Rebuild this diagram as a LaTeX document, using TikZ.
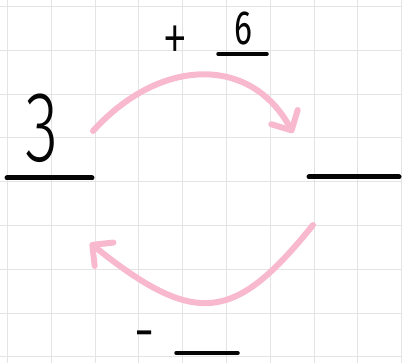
\documentclass[tikz,border=0pt]{standalone}
\usepackage{fontspec}
\usetikzlibrary{arrows.meta}
\newfontfamily\handfont{Fira Sans Light}
\newfontfamily\markfont{Fira Sans}
\definecolor{gridgray}{HTML}{E4E4E4}
\definecolor{arcpink}{HTML}{F8B9CF}
\definecolor{inkblack}{HTML}{050505}
\newcommand{\narrow}[2]{\scalebox{#1}[1]{#2}}

\begin{document}
\begin{tikzpicture}[x=1pt, y=-1pt,
  bar/.style={inkblack, line cap=round, line width=5pt},
  smallbar/.style={inkblack, line cap=round, line width=3.5pt},
  arc/.style={arcpink, line width=6pt, line cap=round,
    -{Straight Barb[round, length=15pt, width=30pt]}},
  hand/.style={inner sep=0pt, text=inkblack}]

% Background
\fill[white] (0,0) rectangle (402,363);
\useasboundingbox (0,0) rectangle (402,363);

% Grid
\foreach \i in {0,...,9} {
  \draw[gridgray, line width=1pt] (7.5+43.8*\i,0) -- (7.5+43.8*\i,363);
}
\foreach \j in {0,...,8} {
  \draw[gridgray, line width=1pt] (0,6.5+43.8*\j) -- (402,6.5+43.8*\j);
}

% Start number and its blank
\node[hand, font=\handfont\fontsize{100}{100}\selectfont, anchor=base] (three) at (42,162) {\narrow{0.68}{3}};
\coordinate (startL) at (7,178);
\coordinate (startR) at (92,178);
\draw[bar] (startL) -- (startR);

% Result blank
\coordinate (endL) at (309,177);
\coordinate (endR) at (399,177);
\draw[bar] (endL) -- (endR);

% Top step: + 6
\node[hand, font=\handfont\fontsize{72}{72}\selectfont] (plus) at (175,44) {\narrow{0.72}{+}};
\node[hand, font=\markfont\fontsize{48}{48}\selectfont, anchor=base] (six) at (243,45) {\narrow{0.7}{6}};
\coordinate (sixL) at (218,54);
\coordinate (sixR) at (267,54);
\draw[smallbar] (sixL) -- (sixR);

% Bottom step: - blank
\node[hand, font=\markfont\fontsize{50}{50}\selectfont] (minus) at (145,340) {-};
\coordinate (backL) at (176,353);
\coordinate (backR) at (238,353);
\draw[smallbar] (backL) -- (backR);

% Arcs
\coordinate (goFrom) at (93,131);
\coordinate (goTo) at (293,133);
\draw[arc] (goFrom) .. controls (160,57) and (251,55) .. (goTo);

\coordinate (backFrom) at (313,225);
\coordinate (backTo) at (90,243);
\draw[arc] (backFrom) .. controls (235,322) and (196,328) .. (backTo);

\end{tikzpicture}
\end{document}
